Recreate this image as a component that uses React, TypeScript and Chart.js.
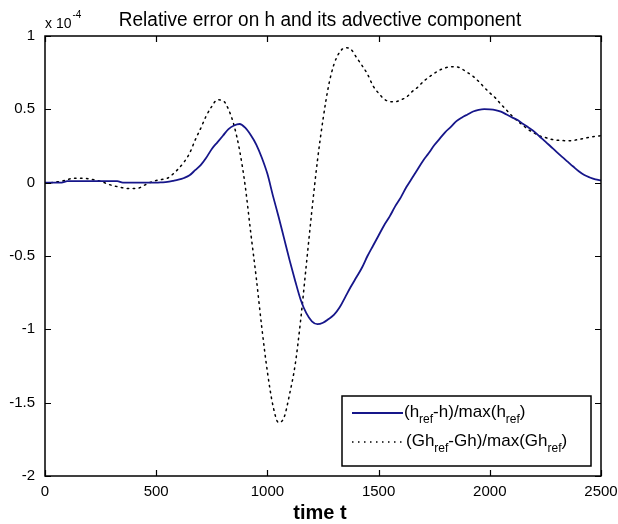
import React, { useEffect, useRef } from "react";
import { Chart, registerables } from "chart.js";

Chart.register(...registerables);

const times: number[] = [
  0, 25, 50, 75, 100, 125, 150, 175, 200, 225, 250, 275, 300, 325, 350, 375, 400, 425, 450, 475,
  500, 525, 550, 575, 600, 625, 650, 675, 700, 725, 750, 775, 800, 825, 850, 875, 900, 925, 950, 975,
  1000, 1025, 1050, 1075, 1100, 1125, 1150, 1175, 1200, 1225, 1250, 1275, 1300, 1325, 1350, 1375, 1400, 1425, 1450, 1475,
  1500, 1525, 1550, 1575, 1600, 1625, 1650, 1675, 1700, 1725, 1750, 1775, 1800, 1825, 1850, 1875, 1900, 1925, 1950, 1975,
  2000, 2025, 2050, 2075, 2100, 2125, 2150, 2175, 2200, 2225, 2250, 2275, 2300, 2325, 2350, 2375, 2400, 2425, 2450, 2475,
  2500,
];

// (h_ref - h)/max(h_ref), units of 1e-4
const hErr: number[] = [
  0, 0, 0, 0, 0.01, 0.01, 0.01, 0.01, 0.01, 0.01, 0.01, 0.01, 0.01, 0.01, 0, 0, 0, 0, 0, 0,
  0, 0.002, 0.005, 0.012, 0.02, 0.032, 0.05, 0.085, 0.12, 0.17, 0.23, 0.275, 0.32, 0.365, 0.39, 0.4, 0.375, 0.325, 0.26, 0.17,
  0.06, -0.09, -0.23, -0.38, -0.53, -0.67, -0.8, -0.89, -0.945, -0.965, -0.955, -0.93, -0.9, -0.85, -0.78, -0.71, -0.645, -0.58, -0.5, -0.43,
  -0.36, -0.29, -0.23, -0.16, -0.1, -0.03, 0.03, 0.09, 0.15, 0.2, 0.255, 0.3, 0.345, 0.38, 0.42, 0.445, 0.465, 0.485, 0.497, 0.502,
  0.5, 0.495, 0.484, 0.465, 0.445, 0.427, 0.4, 0.375, 0.348, 0.313, 0.28, 0.245, 0.21, 0.176, 0.143, 0.11, 0.078, 0.052, 0.035, 0.022,
  0.015,
];

// (Gh_ref - Gh)/max(Gh_ref), units of 1e-4
const ghErr: number[] = [
  0, 0, 0.005, 0.01, 0.02, 0.03, 0.03, 0.03, 0.025, 0.018, 0.01, -0.005, -0.018, -0.027, -0.035, -0.04, -0.04, -0.035, -0.015, 0.003,
  0.015, 0.022, 0.03, 0.058, 0.095, 0.14, 0.2, 0.29, 0.37, 0.455, 0.52, 0.565, 0.56, 0.5, 0.39, 0.22, -0.02, -0.34, -0.65, -0.99,
  -1.29, -1.52, -1.635, -1.6, -1.44, -1.24, -0.93, -0.56, -0.19, 0.15, 0.43, 0.66, 0.81, 0.89, 0.92, 0.91, 0.855, 0.8, 0.74, 0.66,
  0.61, 0.57, 0.553, 0.552, 0.565, 0.583, 0.62, 0.65, 0.688, 0.718, 0.745, 0.768, 0.783, 0.79, 0.79, 0.775, 0.75, 0.725, 0.69, 0.65,
  0.612, 0.578, 0.535, 0.495, 0.455, 0.42, 0.39, 0.36, 0.338, 0.318, 0.308, 0.296, 0.29, 0.287, 0.286, 0.288, 0.295, 0.302, 0.31, 0.316,
  0.32,
];

const xTicks: number[] = [0, 500, 1000, 1500, 2000, 2500];
const yTicks: number[] = [-2, -1.5, -1, -0.5, 0, 0.5, 1];

const titleText = "Relative error on h and its advective component";
const xTitle = "time t";
const legendLabels: string[] = ["(h_{ref}-h)/max(h_{ref})", "(Gh_{ref}-Gh)/max(Gh_{ref})"];

const FONT = "'Liberation Sans', Arial, Helvetica, sans-serif";
const SOLID = "#16168a";

function parseRich(s: string): { t: string; sub: boolean }[] {
  const out: { t: string; sub: boolean }[] = [];
  const re = /_\{([^}]*)\}/g;
  let last = 0;
  let m: RegExpExecArray | null;
  while ((m = re.exec(s))) {
    if (m.index > last) out.push({ t: s.slice(last, m.index), sub: false });
    out.push({ t: m[1], sub: true });
    last = re.lastIndex;
  }
  if (last < s.length) out.push({ t: s.slice(last), sub: false });
  return out;
}

function drawRich(ctx: CanvasRenderingContext2D, s: string, x: number, y: number, size: number) {
  let cx = x;
  ctx.textBaseline = "alphabetic";
  ctx.textAlign = "left";
  for (const p of parseRich(s)) {
    ctx.font = `${p.sub ? Math.round(size * 0.72) : size}px ${FONT}`;
    ctx.fillText(p.t, cx, p.sub ? y + size * 0.35 : y);
    cx += ctx.measureText(p.t).width;
  }
}

const decorPlugin = {
  id: "decor",
  afterDraw(chart: any) {
    const { ctx, chartArea: a, scales } = chart;
    const xs = scales.x;
    const ys = scales.y;
    ctx.save();
    // frame
    ctx.strokeStyle = "#000";
    ctx.lineWidth = 1.5;
    ctx.strokeRect(a.left, a.top, a.right - a.left, a.bottom - a.top);
    // inward ticks
    ctx.lineWidth = 1.2;
    ctx.beginPath();
    for (const v of xTicks) {
      const px = Math.round(xs.getPixelForValue(v)) + 0.5;
      ctx.moveTo(px, a.bottom);
      ctx.lineTo(px, a.bottom - 6);
      ctx.moveTo(px, a.top);
      ctx.lineTo(px, a.top + 6);
    }
    for (const v of yTicks) {
      const py = Math.round(ys.getPixelForValue(v)) + 0.5;
      ctx.moveTo(a.left, py);
      ctx.lineTo(a.left + 6, py);
      ctx.moveTo(a.right, py);
      ctx.lineTo(a.right - 6, py);
    }
    ctx.stroke();

    ctx.fillStyle = "#000";
    // title (slightly condensed to match the original's narrow sans)
    ctx.save();
    ctx.font = `20px ${FONT}`;
    ctx.textAlign = "center";
    ctx.textBaseline = "alphabetic";
    const cx = (a.left + a.right) / 2 - 3;
    ctx.translate(cx, 26);
    ctx.scale(0.95, 1);
    ctx.fillText(titleText, 0, 0);
    ctx.restore();
    // exponent label
    ctx.textAlign = "left";
    ctx.font = `14px ${FONT}`;
    ctx.fillText("x 10", a.left, 28);
    const w = ctx.measureText("x 10").width;
    ctx.font = `10px ${FONT}`;
    ctx.fillText("-4", a.left + w + 1, 18);
    // x title
    ctx.font = `bold 20px ${FONT}`;
    ctx.textAlign = "center";
    ctx.fillText(xTitle, (a.left + a.right) / 2 - 3, 519);

    // legend
    const bw = 249;
    const bh = 70;
    const bx = a.right - 10 - bw;
    const by = a.bottom - 10 - bh;
    ctx.fillStyle = "#fff";
    ctx.fillRect(bx, by, bw, bh);
    ctx.strokeStyle = "#000";
    ctx.lineWidth = 1.5;
    ctx.strokeRect(bx, by, bw, bh);
    const rows = [by + 17, by + 46];
    // solid sample
    ctx.strokeStyle = SOLID;
    ctx.lineWidth = 2;
    ctx.beginPath();
    ctx.moveTo(bx + 10, rows[0]);
    ctx.lineTo(bx + 61, rows[0]);
    ctx.stroke();
    // dotted sample
    ctx.strokeStyle = "#000";
    ctx.lineWidth = 1.5;
    ctx.setLineDash([1.5, 4.5]);
    ctx.beginPath();
    ctx.moveTo(bx + 10, rows[1]);
    ctx.lineTo(bx + 61, rows[1]);
    ctx.stroke();
    ctx.setLineDash([]);
    ctx.fillStyle = "#000";
    drawRich(ctx, legendLabels[0], bx + 62, by + 21, 17);
    drawRich(ctx, legendLabels[1], bx + 64, by + 50, 17);
    ctx.restore();
  },
};

export default function App() {
  const ref = useRef<HTMLCanvasElement | null>(null);
  useEffect(() => {
    document.body.style.margin = "0";
    const canvas = ref.current!;
    const chart = new Chart(canvas, {
      type: "line",
      data: {
        datasets: [
          {
            label: legendLabels[0],
            data: times.map((t, i) => ({ x: t, y: hErr[i] })),
            borderColor: SOLID,
            borderWidth: 1.8,
            pointRadius: 0,
            fill: false,
            cubicInterpolationMode: "monotone",
          },
          {
            label: legendLabels[1],
            data: times.map((t, i) => ({ x: t, y: ghErr[i] })),
            borderColor: "#000",
            borderWidth: 1.5,
            borderDash: [1.5, 4.5],
            borderCapStyle: "round",
            pointRadius: 0,
            fill: false,
            cubicInterpolationMode: "monotone",
          },
        ],
      },
      options: {
        animation: false,
        responsive: false,
        devicePixelRatio: 1,
        layout: { padding: { left: 0, right: 17, top: 36, bottom: 0 } },
        plugins: { legend: { display: false }, title: { display: false }, tooltip: { enabled: false } },
        scales: {
          x: {
            type: "linear",
            min: 0,
            max: 2500,
            grid: { display: false, drawTicks: false },
            border: { display: false },
            afterFit: (s: any) => {
              s.height = 48;
              s.paddingLeft = 0;
              s.paddingRight = 0;
            },
            afterBuildTicks: (s: any) => {
              s.ticks = xTicks.map((v) => ({ value: v }));
            },
            ticks: {
              padding: 7,
              color: "#000",
              font: { family: FONT, size: 15 },
              maxRotation: 0,
              autoSkip: false,
              callback: (v: any) => String(v),
            },
          },
          y: {
            type: "linear",
            min: -2,
            max: 1,
            grid: { display: false, drawTicks: false },
            border: { display: false },
            afterFit: (s: any) => {
              s.width = 45;
              s.paddingTop = 0;
              s.paddingBottom = 0;
            },
            afterBuildTicks: (s: any) => {
              s.ticks = yTicks.map((v) => ({ value: v }));
            },
            ticks: {
              padding: 10,
              color: "#000",
              font: { family: FONT, size: 15 },
              autoSkip: false,
              callback: (v: any) => String(v),
            },
          },
        },
      },
      plugins: [decorPlugin],
    } as any);
    return () => chart.destroy();
  }, []);
  return (
    <div style={{ position: "absolute", left: 0, top: 0, width: 618, height: 524, background: "#fff" }}>
      <canvas ref={ref} width={618} height={524} style={{ width: 618, height: 524 }} />
    </div>
  );
}
